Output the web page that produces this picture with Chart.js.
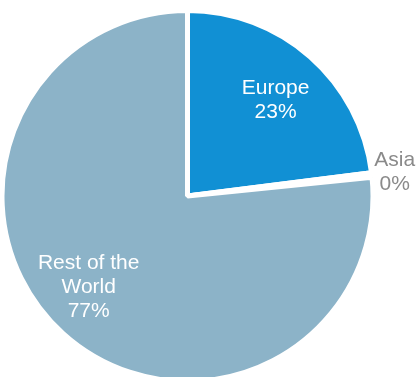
<!DOCTYPE html>
<html>
<head>
<meta charset="utf-8">
<script src="https://cdn.jsdelivr.net/npm/chart.js@4.4.1/dist/chart.umd.min.js"></script>
<style>
  html, body { margin: 0; padding: 0; background: #ffffff; overflow: hidden; }
  #wrap { position: relative; width: 418px; height: 377px; }
</style>
</head>
<body>
<div id="wrap"><canvas id="regionChart"></canvas></div>
<script>
// Share of total by region
const regions = ["Europe", "Asia", "Rest of the World"]
const shares = [23.0, 0.4, 76.6]
const sliceColors = ["#1190d4", "#5b9fc8", "#8cb3c8"]

// label text lines (percent appended from the data), radial distance and nudge
const labelLines = [["Europe"], ["Asia"], ["Rest of the", "World"]]
const labelColors = ["#ffffff", "#8a8a8a", "#ffffff"]
const labelRadius = [0.71, 1.124, 0.73]
const labelNudge = [[1, 3], [0, 0], [-8, -9]]

const sliceLabels = {
  id: "sliceLabels",
  afterDatasetsDraw(chart) {
    const ctx = chart.ctx
    const meta = chart.getDatasetMeta(0)
    const data = chart.data.datasets[0].data
    const total = data.reduce((a, b) => a + b, 0)
    ctx.save()
    ctx.font = "21px 'Liberation Sans', Arial, sans-serif"
    ctx.textAlign = "center"
    ctx.textBaseline = "middle"
    meta.data.forEach((arc, i) => {
      const { x, y, startAngle, endAngle, outerRadius } = arc.getProps(
        ["x", "y", "startAngle", "endAngle", "outerRadius"],
        true,
      )
      const mid = (startAngle + endAngle) / 2
      const r = outerRadius * labelRadius[i]
      const cx = x + Math.cos(mid) * r + labelNudge[i][0]
      const cy = y + Math.sin(mid) * r + labelNudge[i][1]
      const lines = labelLines[i].concat(Math.round((data[i] / total) * 100) + "%")
      const lh = 24
      ctx.fillStyle = labelColors[i]
      lines.forEach((line, k) => {
        ctx.fillText(line, cx, cy + (k - (lines.length - 1) / 2) * lh)
      })
    })
    ctx.restore()
  },
}

new Chart(document.getElementById("regionChart"), {
  type: "pie",
  data: {
    labels: regions,
    datasets: [
      {
        data: shares,
        backgroundColor: sliceColors,
        borderColor: "#ffffff",
        borderWidth: 5,
        clip: false,
      },
    ],
  },
  options: {
    responsive: true,
    maintainAspectRatio: false,
    animation: false,
    radius: 185.5,
    layout: { padding: { left: 0, right: 43, top: 15, bottom: 0 } },
    plugins: {
      legend: { display: false },
      tooltip: { enabled: false },
    },
  },
  plugins: [sliceLabels],
})
</script>
</body>
</html>
